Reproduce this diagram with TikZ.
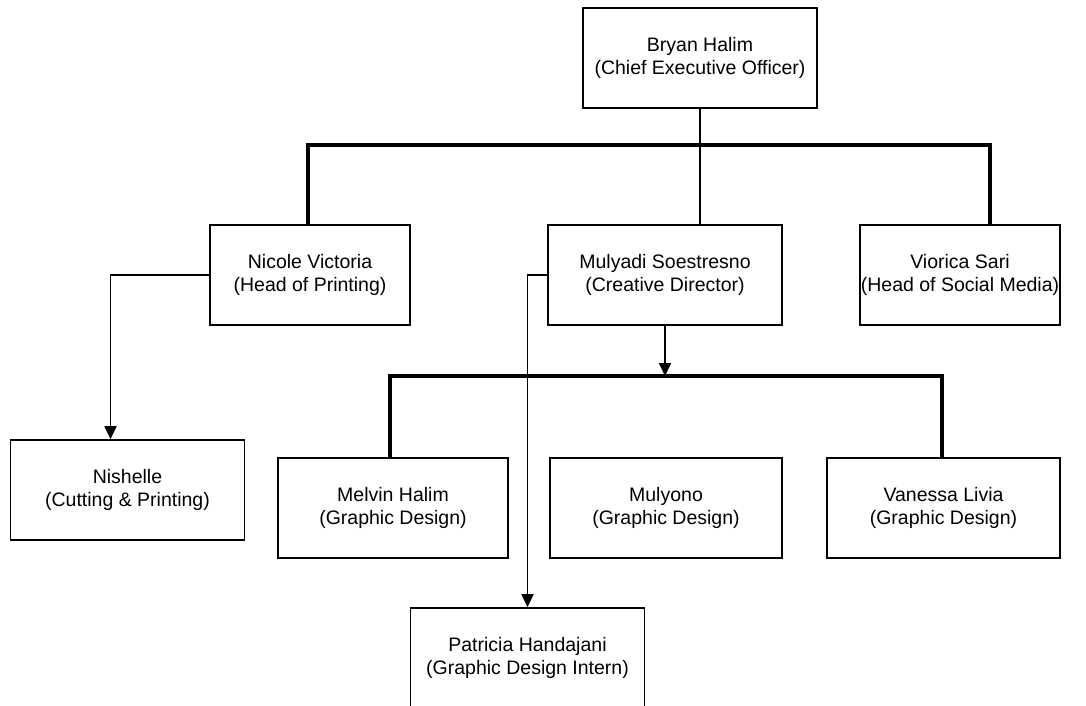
\documentclass[tikz,border=0pt]{standalone}
\usepackage{fontspec}
\setmainfont{Liberation Sans}
\usepackage{tikz}
\usetikzlibrary{shapes, arrows, arrows.meta, positioning}
\tikzstyle{person} = [rectangle, draw=black, line width=1.6pt, inner xsep=0pt, minimum width=234pt, minimum height=100pt, align=center, font=\fontsize{19.5}{23}\selectfont]
\tikzstyle{head} = [person, minimum width=200pt]
\tikzstyle{bus} = [line width=3.2pt]
\tikzstyle{link} = [line width=1.8pt]
\tikzstyle{arrow} = [line width=1.8pt, -{Stealth[length=13pt, width=12pt, inset=0pt]}]

\begin{document}
\begin{tikzpicture}[x=1pt, y=-1pt]
        \useasboundingbox (0,0) rectangle (1086,706);
        % Level 1
        \node (ceo) [person] at (700,58) {Bryan Halim\\(Chief Executive Officer)};

        % Level 2
        \node (nicole) [head] at (310,275) {Nicole Victoria\\(Head of Printing)};
        \node (mulyadi) [person] at (665,275) {Mulyadi Soestresno\\(Creative Director)};
        \node (viorica) [head] at (960,275) {Viorica Sari\\(Head of Social Media)};

        % Level 3
        \node (nishelle) [person] at (127.5,490) {Nishelle\\(Cutting \& Printing)};
        \node (melvin) [person, minimum width=230pt] at (393,508) {Melvin Halim\\(Graphic Design)};
        \node (mulyono) [person, minimum width=232pt] at (666,508) {Mulyono\\(Graphic Design)};
        \node (vanessa) [person, minimum width=233pt] at (943.5,508) {Vanessa Livia\\(Graphic Design)};

        % Level 4
        \node (patricia) [person] at (527.5,658) {Patricia Handajani\\(Graphic Design Intern)};

        % Bus points
        \coordinate (busL) at (308,145);
        \coordinate (busR) at (990,145);
        \coordinate (busB) at (665,376);
        \coordinate (busBL) at (390,376);
        \coordinate (busBR) at (942,376);

        % Lines
        \draw [link] (ceo.south) -- (ceo.south |- mulyadi.north);
        \draw [bus] (busL |- nicole.north) -- (busL) -- (busR) -- (busR |- viorica.north);

        \draw [arrow] (nicole.west) -| ([xshift=-17pt]nishelle.north);
        \draw [arrow] (mulyadi.west) -| (patricia.north);

        \draw [arrow] (mulyadi.south) -- (busB);
        \draw [bus] (busBL |- melvin.north) -- (busBL) -- (busBR) -- (busBR |- vanessa.north);

    \end{tikzpicture}
\end{document}
